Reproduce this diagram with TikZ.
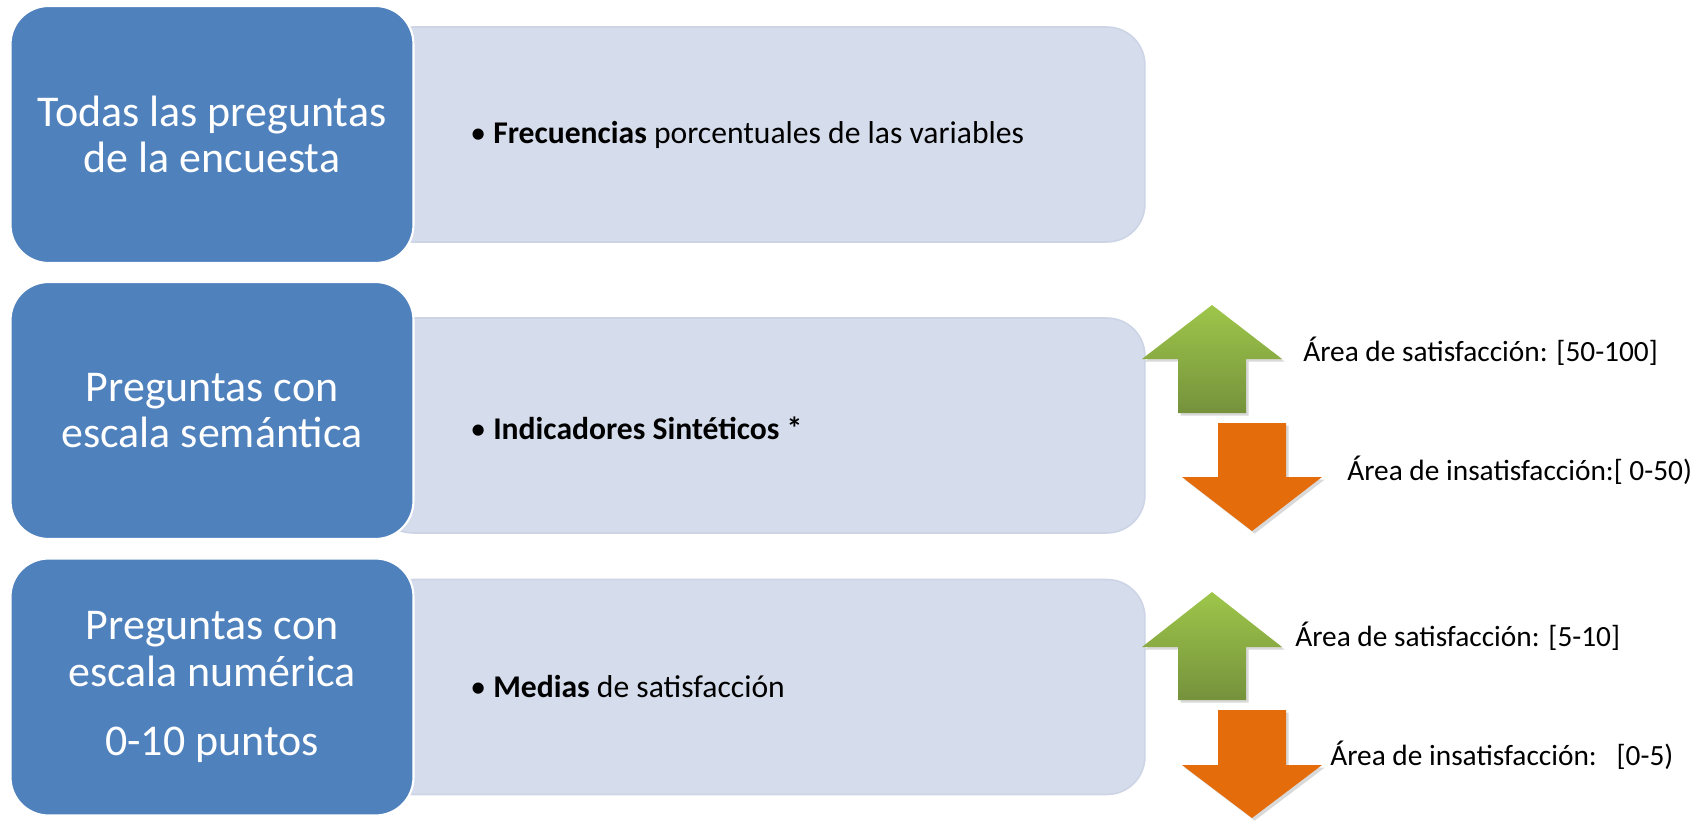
\documentclass[tikz,border=0pt]{standalone}
\usepackage{fontspec}
\setmainfont{Carlito}
\usetikzlibrary{shadows}

\definecolor{boxblue}{RGB}{79,129,189}
\definecolor{boxlight}{RGB}{213,220,235}
\definecolor{boxline}{RGB}{204,212,230}
\definecolor{greentop}{RGB}{158,198,74}
\definecolor{greenbot}{RGB}{117,146,60}
\definecolor{downorange}{RGB}{228,108,10}

% up arrow: centre x, apex y, head base y, bottom y
\newcommand{\satup}[4]{%
  \shade[top color=greentop,bottom color=greenbot,
    drop shadow={opacity=0.3,shadow xshift=1.5pt,shadow yshift=-1.5pt}]
    (#1,#2) -- ({#1+70},#3) -- ({#1+34},#3) -- ({#1+34},#4)
    -- ({#1-34},#4) -- ({#1-34},#3) -- ({#1-70},#3) -- cycle;}
% down arrow: centre x, top y, head base y, apex y
\newcommand{\satdown}[4]{%
  \fill[downorange,
    drop shadow={opacity=0.3,shadow xshift=1.5pt,shadow yshift=-1.5pt}]
    ({#1-34},#2) -- ({#1+34},#2) -- ({#1+34},#3) -- ({#1+70},#3)
    -- (#1,#4) -- ({#1-70},#3) -- ({#1-34},#3) -- cycle;}

\tikzset{
  qbox/.style={fill=boxblue,draw=white,line width=1.2pt,rounded corners=0.76cm,
    minimum width=8.06cm,minimum height=5.14cm,inner sep=0pt,text=white,
    align=center,font=\fontsize{25}{26.5}\selectfont},
  listbox/.style={fill=boxlight,draw=boxline,line width=0.9pt,rounded corners=0.76cm,
    minimum width=15.4cm,minimum height=4.3cm,inner sep=0pt},
  bullet/.style={anchor=west,inner sep=0pt,font=\fontsize{18}{22}\selectfont},
  arealabel/.style={anchor=west,inner sep=0pt,font=\fontsize{16.7}{20}\selectfont}
}

\begin{document}
\begin{tikzpicture}[x=0.02cm,y=-0.02cm]
    \useasboundingbox (0,0) rectangle (1706,821);

    % Draw the light boxes behind
    \node[listbox] (l1) at (760,134.5) {};
    \node[listbox] (l2) at (760,425.5) {};
    \node[listbox] (l3) at (760,687) {};

    % Draw the blue boxes
    \node[qbox] (q1) at (212,134.5) {Todas las preguntas\\de la encuesta};
    \node[qbox] (q2) at (212,410.5) {Preguntas con\\escala semántica};
    \node[qbox] (q3) at (212,687) {Preguntas con\\escala numérica\\[13pt]0-10 puntos};

    % Bullet texts
    \node[bullet] (b1) at (470,134.5) {\textbullet\ \textbf{Frecuencias} porcentuales de las variables};
    \node[bullet] (b2) at (470,428) {\textbullet\ \textbf{Indicadores Sintéticos *}};
    \node[bullet] (b3) at (470,687) {\textbullet\ \textbf{Medias} de satisfacción};

    % Arrows for the semantic scale
    \satup{1212}{305}{359}{413}
    \satdown{1252}{423}{477}{531}
    \node[arealabel] (s2) at (1303,351) {Área de satisfacción: [50-100]};
    \node[arealabel] (i2) at (1347,470) {Área de insatisfacción:[ 0-50)};

    % Arrows for the numeric scale
    \satup{1212}{592}{647}{700}
    \satdown{1252}{710}{765}{818}
    \node[arealabel] (s3) at (1295,636) {Área de satisfacción: [5-10]};
    \node[arealabel] (i3) at (1330,755) {Área de insatisfacción:\ \ \ [0-5)};
\end{tikzpicture}
\end{document}
